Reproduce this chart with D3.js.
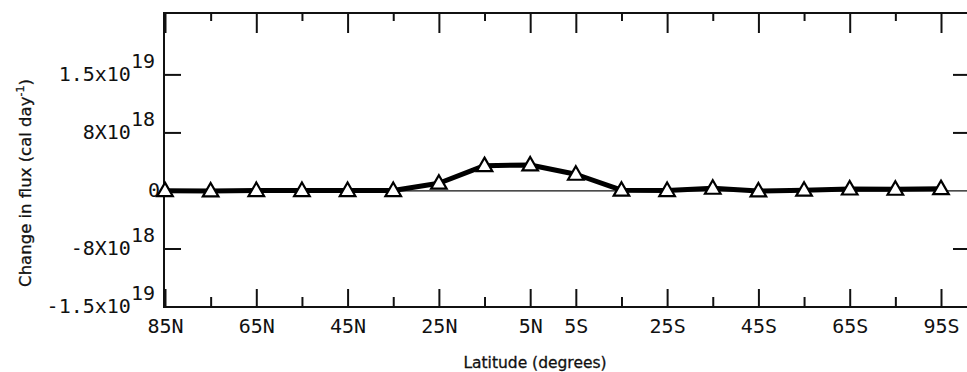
<!DOCTYPE html>
<html>
<head>
<meta charset="utf-8">
<script src="https://cdn.jsdelivr.net/npm/d3@7"></script>
<style>
  body { margin: 0; background: #fff; }
  svg { display: block; }
  .tick text { font-family: "DejaVu Sans Mono", monospace; font-size: 20px; fill: #111; }
  .title { font-family: "DejaVu Sans", sans-serif; fill: #111; stroke: #111; stroke-width: 0.3; }
</style>
</head>
<body>
<svg id="chart"></svg>
<script>
// latitude points along the x axis
const latitudes = ["85N","75N","65N","55N","45N","35N","25N","15N","5N",
                   "5S","15S","25S","35S","45S","55S","65S","75S","85S"];
// change in flux, cal/day
const fluxChange = [0.04e18, 0.0, 0.05e18, 0.05e18, 0.05e18, 0.05e18, 1.0e18, 3.27e18, 3.36e18,
                    2.16e18, 0.1e18, 0.05e18, 0.35e18, 0.0, 0.1e18, 0.25e18, 0.22e18, 0.3e18];

// labelled x ticks (the last one is printed as 95S in the original)
const xLabelAt = ["85N","65N","45N","25N","5N","5S","25S","45S","65S","85S"];
const xLabelText = ["85N","65N","45N","25N","5N","5S","25S","45S","65S","95S"];

// y ticks: base text and superscript
const yTickValues = [-1.5e19, -7.5e18, 0, 7.5e18, 1.5e19];
const yTickBase = ["-1.5x10", "-8X10", "0", "8X10", "1.5x10"];
const yTickSup = ["19", "18", "", "18", "19"];

const width = 967, height = 372;
const plotLeft = 164, plotRight = 970, plotTop = 13, plotBottom = 307;

const svg = d3.select("#chart").attr("width", width).attr("height", height);

const x = d3.scalePoint().domain(latitudes).range([165, 941]);
const y = d3.scaleLinear().domain([-1.5e19, 2.3e19]).range([plotBottom, plotTop]);

// frame lines
const frame = svg.append("g").attr("stroke", "#111").attr("stroke-width", 2);
frame.append("line").attr("x1", plotLeft).attr("x2", plotLeft).attr("y1", plotTop - 1).attr("y2", plotBottom + 1);
frame.append("line").attr("x1", plotLeft).attr("x2", plotRight).attr("y1", plotTop).attr("y2", plotTop);
frame.append("line").attr("x1", plotLeft).attr("x2", plotRight).attr("y1", plotBottom).attr("y2", plotBottom);

const minor = latitudes.filter(d => !xLabelAt.includes(d));

// bottom axis: long labelled ticks, short unlabelled ones
const xb = svg.append("g").attr("transform", `translate(0,${plotBottom})`)
  .call(d3.axisBottom(x).tickValues(xLabelAt).tickSizeInner(-18).tickSizeOuter(0).tickPadding(30)
    .tickFormat(d => xLabelText[xLabelAt.indexOf(d)]));
xb.selectAll(".tick text").attr("dy", "-0.2em");
svg.append("g").attr("transform", `translate(0,${plotBottom})`)
  .call(d3.axisBottom(x).tickValues(minor).tickSizeInner(-10).tickSizeOuter(0).tickFormat(""));

// top axis ticks
svg.append("g").attr("transform", `translate(0,${plotTop})`)
  .call(d3.axisTop(x).tickValues(xLabelAt).tickSizeInner(-20).tickSizeOuter(0).tickFormat(""));
svg.append("g").attr("transform", `translate(0,${plotTop})`)
  .call(d3.axisTop(x).tickValues(minor).tickSizeInner(-8).tickSizeOuter(0).tickFormat(""));

svg.selectAll(".domain").remove();
svg.selectAll(".tick line").attr("stroke", "#111").attr("stroke-width", 2);

// left axis ticks with superscript labels
const yl = svg.append("g").attr("transform", `translate(${plotLeft},0)`);
yl.selectAll("line").data(yTickValues.filter(v => v !== 0 && v !== -1.5e19)).enter().append("line")
  .attr("x1", 0).attr("x2", 17).attr("y1", d => y(d)).attr("y2", d => y(d))
  .attr("stroke", "#111").attr("stroke-width", 2);
const lab = yl.selectAll("text").data(yTickValues).enter().append("text")
  .attr("x", (d, i) => yTickSup[i] ? -9 : -4)
  .attr("y", d => y(d) + 6)
  .attr("text-anchor", "end")
  .style("font-family", "'DejaVu Sans Mono', monospace")
  .style("font-size", "20px")
  .attr("fill", "#111");
lab.append("tspan").text((d, i) => yTickBase[i]);
lab.append("tspan").attr("dy", -13).text((d, i) => yTickSup[i]);

// right axis ticks
svg.append("g").selectAll("line").data(yTickValues.filter(v => v !== 0 && v !== -1.5e19)).enter().append("line")
  .attr("x1", 953).attr("x2", plotRight).attr("y1", d => y(d)).attr("y2", d => y(d))
  .attr("stroke", "#111").attr("stroke-width", 2);

// zero line
svg.append("line").attr("x1", plotLeft).attr("x2", plotRight).attr("y1", y(0)).attr("y2", y(0))
  .attr("stroke", "#111").attr("stroke-width", 1.2);

// data line
const line = d3.line().x((d, i) => x(latitudes[i])).y(d => y(d));
svg.append("path").datum(fluxChange).attr("d", line)
  .attr("fill", "none").attr("stroke", "#000").attr("stroke-width", 5).attr("stroke-linejoin", "round");

// triangle markers
const tri = d3.symbol(d3.symbolTriangle, 105);
svg.append("g").selectAll("path").data(fluxChange).enter().append("path")
  .attr("d", tri)
  .attr("transform", (d, i) => `translate(${x(latitudes[i])},${y(d) + 1})`)
  .attr("fill", "#fff").attr("stroke", "#000").attr("stroke-width", 2.2);

// axis titles
svg.append("text").attr("class", "title")
  .attr("x", 535).attr("y", 368).attr("text-anchor", "middle")
  .style("font-size", "15.5px").text("Latitude (degrees)");

const yt = svg.append("text").attr("class", "title")
  .attr("transform", "translate(31,183) rotate(-90)").attr("text-anchor", "middle")
  .style("font-size", "16.5px");
yt.append("tspan").text("Change in flux (cal day");
yt.append("tspan").attr("dy", -7).style("font-size", "11px").text("-1");
yt.append("tspan").attr("dy", 7).text(")");
</script>
</body>
</html>
